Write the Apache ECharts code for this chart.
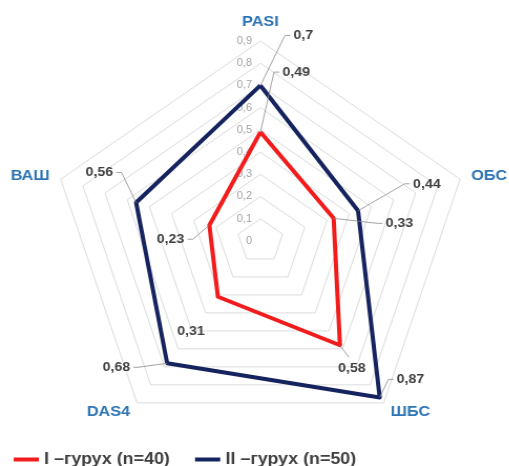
<!DOCTYPE html>
<html>
<head>
<meta charset="utf-8">
<script src="https://cdn.jsdelivr.net/npm/echarts@6/dist/echarts.min.js"></script>
<style>
  html, body { margin: 0; padding: 0; background: #fff; overflow: hidden; }
  /* the chart is laid out slightly narrower and widened 5% to get its broad pentagon */
  #chart { width: 485px; height: 466px; transform: scaleX(1.05); transform-origin: 0 0; }
</style>
</head>
<body>
<div id="chart"></div>
<script>
// Indicators in drawing order (counter-clockwise from the top)
const indicators = ['PASI', 'ВАШ', 'DAS4', 'ШБС', 'ОБС'];
const seriesNames = ['I –гурух (n=40)', 'II –гурух (n=50)'];
const group1 = [0.49, 0.23, 0.31, 0.58, 0.33];
const group2 = [0.70, 0.56, 0.68, 0.87, 0.44];
const axisMax = 0.9;

const colors = ['#f21c1c', '#15235e'];
const stretchX = 1.05;

// Value label placement: [dx, dy, align, leader] relative to each vertex (screen px)
const labelPlace = [
  [[22, -60, 'left', true], [-25, 14, 'right', true], [-27, 35, 'center', false], [12, 23, 'center', true], [52, 5, 'left', true]],
  [[33, -50, 'left', true], [-23, -30, 'right', true], [-37, 4, 'right', true], [17, -18, 'left', true], [55, -27, 'left', true]]
];

const fmt = v => String(v).replace('.', ',');
const FONT = '"Liberation Sans", Arial, sans-serif';

const chart = echarts.init(document.getElementById('chart'));

chart.setOption({
  animation: false,
  backgroundColor: '#fff',
  color: colors,
  legend: {
    left: 8,
    top: 446,
    itemWidth: 24,
    itemHeight: 4,
    itemGap: 24,
    icon: 'rect',
    textStyle: { fontFamily: FONT, fontWeight: 'bold', fontSize: 17, color: '#404040' },
    data: seriesNames
  },
  radar: {
    center: [248, 241],
    radius: 200,
    startAngle: 90,
    shape: 'polygon',
    splitNumber: 9,
    nameGap: 11,
    axisName: {
      color: '#2e75b6',
      fontFamily: FONT,
      fontWeight: 'bold',
      fontSize: 15.5
    },
    axisLine: { show: false },
    axisTick: { show: false },
    axisLabel: { show: false },
    splitArea: { show: false },
    splitLine: { lineStyle: { color: '#dcdcdc', width: 1 } },
    indicator: indicators.map((name, i) => {
      const ind = { name: name, min: 0, max: axisMax };
      if (i === 0) {
        ind.axisLabel = {
          show: true,
          color: '#a3a3a3',
          fontSize: 10.5,
          fontFamily: FONT,
          formatter: v => fmt(Math.round(v * 10) / 10)
        };
      }
      return ind;
    })
  },
  series: [{
    type: 'radar',
    symbol: 'none',
    data: [
      { name: seriesNames[0], value: group1, lineStyle: { color: colors[0], width: 4 }, itemStyle: { color: colors[0] } },
      { name: seriesNames[1], value: group2, lineStyle: { color: colors[1], width: 4 }, itemStyle: { color: colors[1] } }
    ]
  }]
});

// Value labels with leader lines, positioned from the radar's own coordinate system
function drawValueLabels() {
  const radar = chart.getModel().getComponent('radar', 0).coordinateSystem;
  const elements = [];
  [group1, group2].forEach((vals, g) => {
    vals.forEach((v, i) => {
      const p = radar.dataToPoint(v, i);
      const [dxs, dy, align, leader] = labelPlace[g][i];
      const dx = dxs / stretchX;
      const ax = p[0] + dx, ay = p[1] + dy;
      if (leader) {
        const s = align === 'left' ? 1 : (align === 'right' ? -1 : 0);
        const pts = s === 0
          ? [[p[0], p[1]], [ax - 3, ay - 11]]
          : [[p[0], p[1]], [ax - s * 8, ay], [ax - s * 3, ay]];
        elements.push({
          type: 'polyline',
          silent: true,
          shape: { points: pts },
          style: { stroke: '#8c8c8c', lineWidth: 0.8, fill: null },
          z: 5
        });
      }
      elements.push({
        type: 'text',
        silent: true,
        x: ax,
        y: ay,
        style: {
          text: fmt(v),
          align: align,
          verticalAlign: 'middle',
          fill: '#404040',
          font: 'bold 13.5px ' + FONT
        },
        z: 6
      });
    });
  });
  chart.setOption({ graphic: { elements: elements } });
}
drawValueLabels();
</script>
</body>
</html>
